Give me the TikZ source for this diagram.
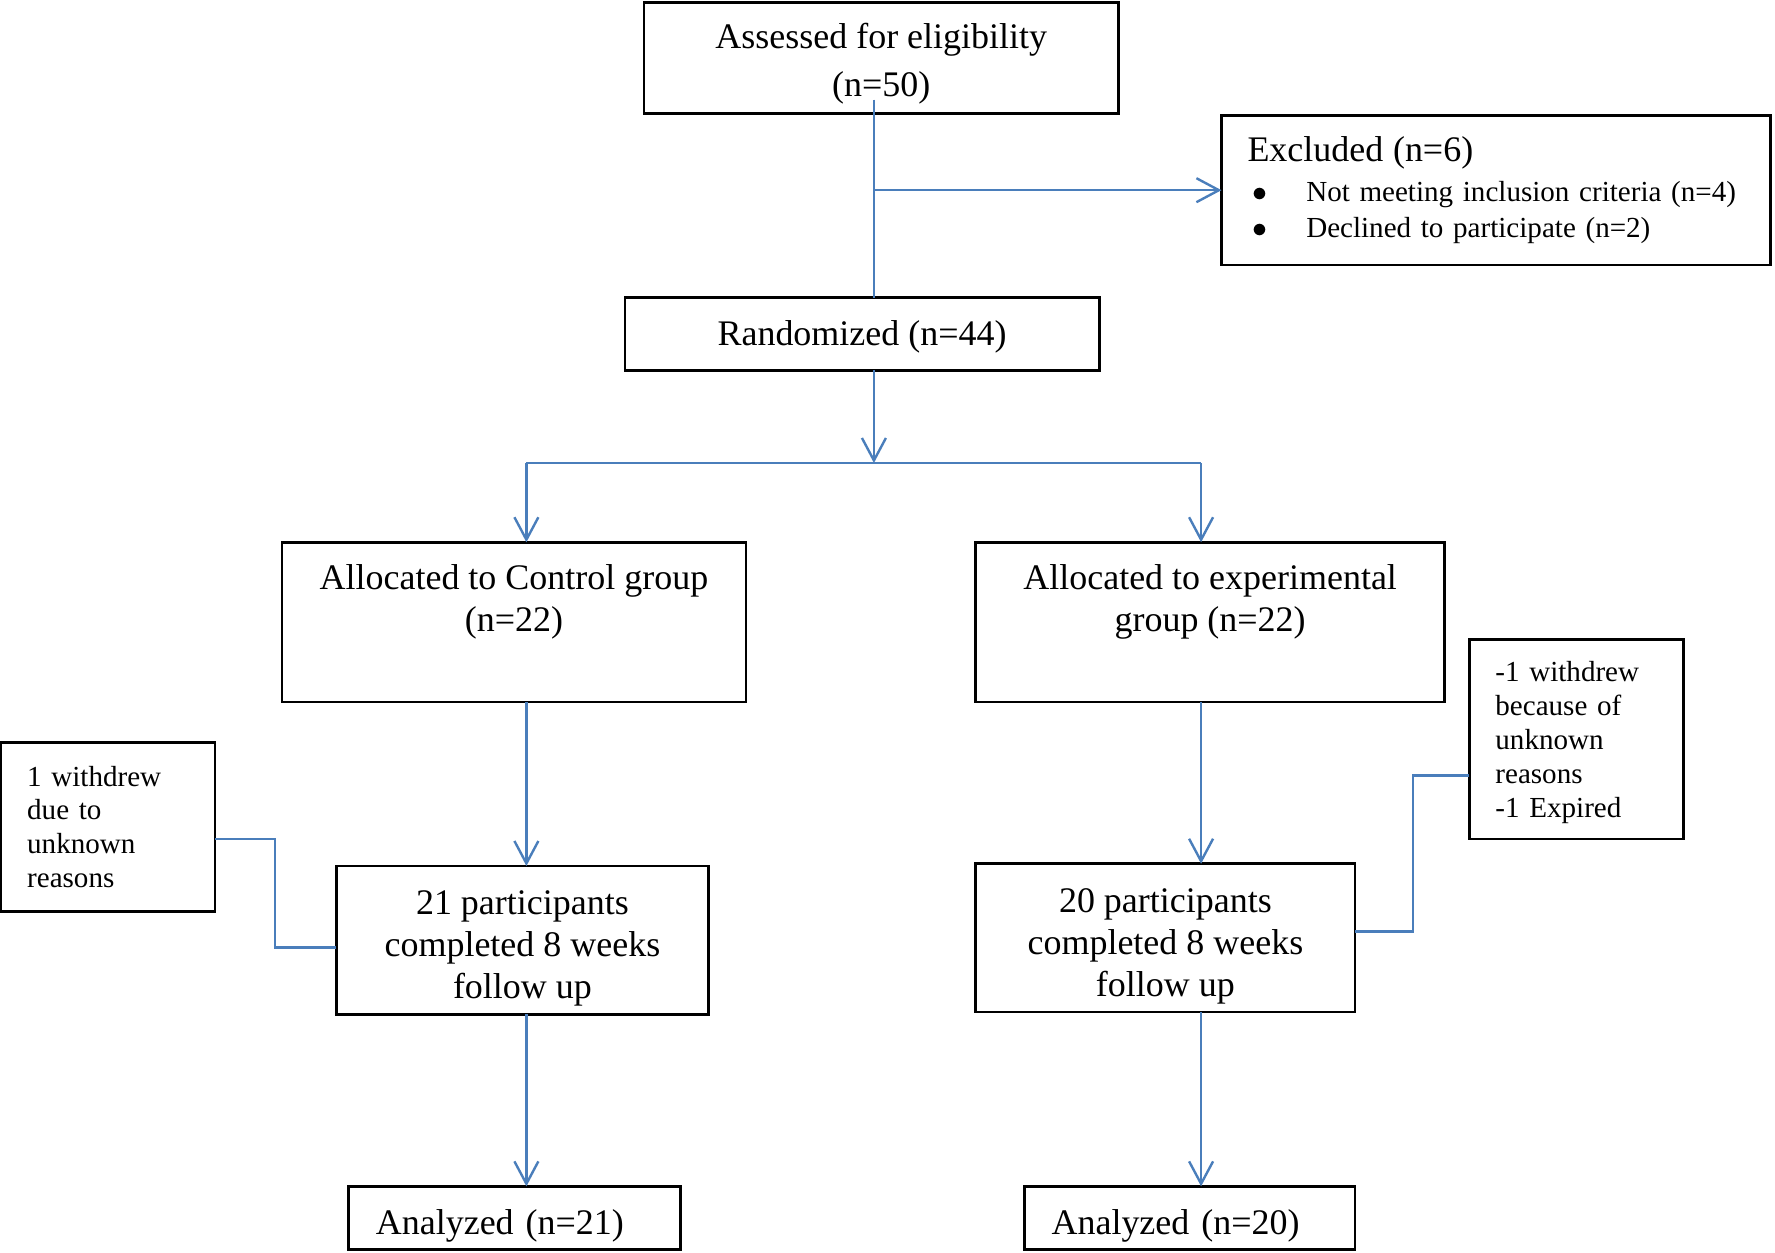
\documentclass[tikz,border=0pt]{standalone}
\usepackage{fontspec}
\setmainfont{Liberation Serif}
\usetikzlibrary{arrows.meta}
\definecolor{flowblue}{HTML}{4A7EBB}
\newcommand{\unitpx}{0.3777pt}
\newcommand{\lift}[1]{\rule{0pt}{#1}}
\tikzset{
  box/.style={draw, line width=0.9pt, rectangle, inner sep=0pt, outer sep=0pt,
    align=center, font=\fontsize{12}{14}\selectfont},
  sidebox/.style={box, align=left, font=\fontsize{9.7}{11.3}\selectfont},
  flow/.style={draw=flowblue, line width=0.8pt},
  flowarrow/.style={flow, -{Straight Barb[length=7.5pt, width=8pt]}}
}
\begin{document}
\begin{tikzpicture}[x=\unitpx, y=-\unitpx]
    \useasboundingbox (0,0) rectangle (1568,1106);
    \node[box, minimum width=419*\unitpx, minimum height=98*\unitpx] (assess) at (778.5,51)
        {\lift{12.4pt}Assessed for eligibility\\[2pt](n=50)};
    \node[box, align=left, text width=165.8pt, minimum width=485*\unitpx, minimum height=132*\unitpx,
        font=\fontsize{9.7}{12}\selectfont] (excl) at (1321.5,168)
        {{\fontsize{12}{14}\selectfont Excluded (n=6)}\\[1.6pt]
         \mbox{\makebox[19.6pt][l]{\hspace{1.5pt}$\bullet$}Not meeting inclusion criteria (n=4)}\\
         \mbox{\makebox[19.6pt][l]{\hspace{1.5pt}$\bullet$}Declined to participate (n=2)}};
    \node[box, minimum width=419*\unitpx, minimum height=64*\unitpx] (rand) at (761.5,295)
        {\lift{10.5pt}Randomized (n=44)};
    \node[box, minimum width=410*\unitpx, minimum height=141*\unitpx] (ctrl) at (454,549.5)
        {Allocated to Control group\\(n=22)\\[2pt]\mbox{}};
    \node[box, minimum width=414*\unitpx, minimum height=141*\unitpx] (expm) at (1069,549.5)
        {Allocated to experimental\\group (n=22)\\[2pt]\mbox{}};
    \node[box, minimum width=329*\unitpx, minimum height=131*\unitpx] (fu21) at (461.5,830.5)
        {\lift{13.5pt}21 participants\\completed 8 weeks\\follow up};
    \node[box, minimum width=335*\unitpx, minimum height=131*\unitpx] (fu20) at (1029.5,828.5)
        {\lift{13.5pt}20 participants\\completed 8 weeks\\follow up};
    \node[sidebox, text width=54pt, minimum width=189*\unitpx, minimum height=149*\unitpx] (wdl) at (95.5,730.5)
        {1 withdrew\\due to\\unknown\\reasons};
    \node[sidebox, text width=54pt, minimum width=189*\unitpx, minimum height=176*\unitpx] (wdr) at (1392.5,653)
        {\lift{9pt}-1 withdrew\\because of\\unknown\\reasons\\-1 Expired};
    \node[box, align=left, text width=92.5pt, minimum width=293*\unitpx, minimum height=56*\unitpx] (an21) at (454.5,1076)
        {\lift{13.5pt}Analyzed (n=21)};
    \node[box, align=left, text width=92.2pt, minimum width=292*\unitpx, minimum height=56*\unitpx] (an20) at (1051,1076)
        {\lift{13.5pt}Analyzed (n=20)};
    \coordinate (spinetop) at (772,88);
    \coordinate (branch) at (772,409);
    \coordinate (lcol) at (465,409);
    \coordinate (rcol) at (1061,409);
    \draw[flow] (spinetop) -- (spinetop |- rand.north);
    \draw[flowarrow] (spinetop |- excl.west) -- (excl.west);
    \draw[flowarrow] (spinetop |- rand.south) -- (branch);
    \draw[flow] (lcol) -- (rcol);
    \draw[flowarrow] (lcol) -- (lcol |- ctrl.north);
    \draw[flowarrow] (rcol) -- (rcol |- expm.north);
    \draw[flowarrow] (lcol |- ctrl.south) -- (lcol |- fu21.north);
    \draw[flowarrow] (rcol |- expm.south) -- (rcol |- fu20.north);
    \draw[flowarrow] (lcol |- fu21.south) -- (lcol |- an21.north);
    \draw[flowarrow] (rcol |- fu20.south) -- (rcol |- an20.north);
    \draw[flow] (wdl.east |- 0,741) -| (243,837) -- (fu21.west |- 0,837);
    \draw[flow] (wdr.west |- 0,685) -| (1248,823) -- (fu20.east |- 0,823);
\end{tikzpicture}
\end{document}
